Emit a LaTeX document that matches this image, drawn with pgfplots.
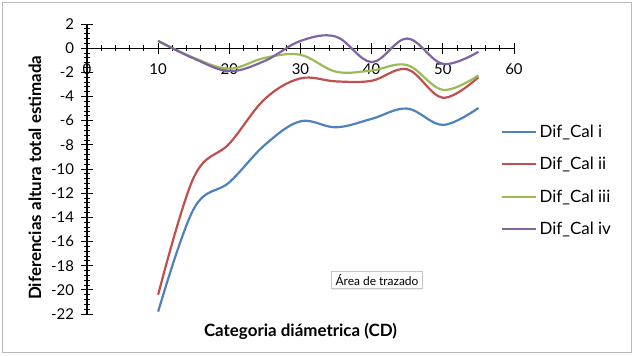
\documentclass[border=0pt]{standalone}
\usepackage{pgfplots}
\pgfplotsset{compat=1.18}
\usepackage{pgfplotstable}
\usepackage{fontspec}
\setmainfont{Lato}
\usetikzlibrary{shadows}

\definecolor{cBlue}{HTML}{4F81BD}
\definecolor{cRed}{HTML}{C0504D}
\definecolor{cGreen}{HTML}{9BBB59}
\definecolor{cPurple}{HTML}{8064A2}

\pgfplotstableread{
cd   i      ii     iii    iv
10  -21.8  -20.4   0.6    0.6
15  -13.3  -10.7  -0.8   -0.85
20  -11.1   -7.9  -1.7   -1.9
25   -8.0   -4.2  -0.8   -1.05
30   -6.05  -2.5  -0.55   0.6
35   -6.55  -2.75 -1.95   0.95
40   -5.85  -2.7  -1.85  -1.15
45   -5.0   -1.75 -1.4    0.8
50   -6.35  -4.1  -3.45  -1.3
55   -4.95  -2.4  -2.25  -0.3
}\datos

\begin{document}
\begin{tikzpicture}
\useasboundingbox (0bp,0bp) rectangle (634bp,-356bp);
\draw[gray!55, line width=1bp] (2.5bp,-2.5bp) rectangle (631.5bp,-352.5bp);
\begin{axis}[
  at={(87bp,-314bp)}, anchor=south west,
  scale only axis, width=427bp, height=290bp,
  xmin=0, xmax=60, ymin=-22, ymax=2,
  axis lines=middle,
  axis line style={black, line width=1.1bp, -},
  hide obscured x ticks=false, hide obscured y ticks=false,
  xtick={0,10,...,60}, ytick={-22,-20,...,2},
  minor x tick num=4, minor y tick num=4,
  tick align=center,
  major tick length=11bp, minor tick length=6bp,
  tick style={black, line width=0.9bp},
  ticklabel style={font=\fontsize{15}{18}\selectfont},
  /pgf/number format/assume math mode=true,
  x tick label style={yshift=-6bp},
  y tick label style={xshift=-4bp},
  xlabel={Categoria diámetrica (CD)},
  xlabel style={at={(axis description cs:0.5,0)}, anchor=north, yshift=-6bp,
    font=\bfseries\fontsize{17}{20}\selectfont},
  ylabel={Diferencias altura total estimada},
  ylabel style={at={(axis description cs:-0.122,0.47)}, anchor=center, rotate=90,
    font=\bfseries\fontsize{17}{20}\selectfont},
  legend style={draw=none, fill=none, at={(axis description cs:0.97,0.66)},
    anchor=north west, font=\fontsize{17}{20}\selectfont, row sep=14.5bp,
    inner sep=0pt},
  legend cell align=left,
  legend image code/.code={\draw[#1] (0bp,0bp) -- (34bp,0bp);},
  every axis plot/.append style={line width=2.2bp, smooth, tension=0.6},
  clip=false,
]
\addplot[cBlue] table[x=cd, y=i] {\datos};
\addplot[cRed] table[x=cd, y=ii] {\datos};
\addplot[cGreen] table[x=cd, y=iii] {\datos};
\addplot[cPurple] table[x=cd, y=iv] {\datos};
\legend{Dif\_Cal i, Dif\_Cal ii, Dif\_Cal iii, Dif\_Cal iv}
\end{axis}
\node[draw=gray!45, fill=white, drop shadow={opacity=0.15, shadow xshift=0bp, shadow yshift=-1.5bp},
  font=\fontsize{12}{14}\selectfont, inner xsep=4bp, inner ysep=3bp]
  at (377bp,-280bp) {Área de trazado};
\end{tikzpicture}
\end{document}
